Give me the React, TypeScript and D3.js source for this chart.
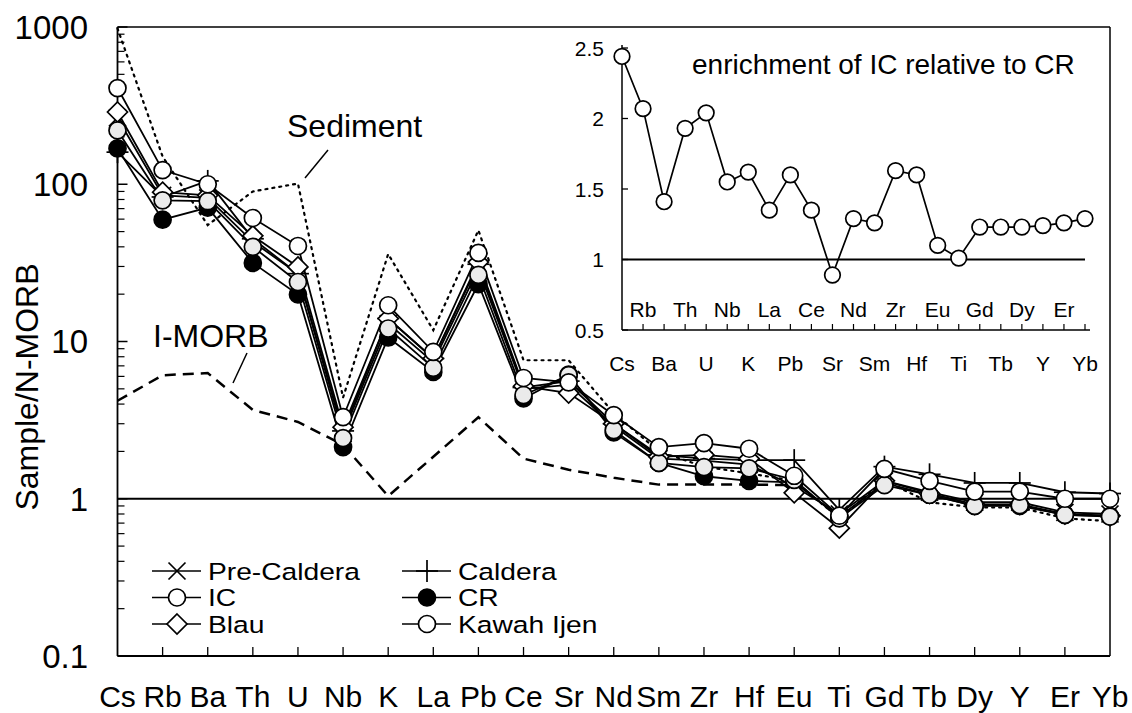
import React from "react";
import * as d3 from "d3";

const elements = ["Cs","Rb","Ba","Th","U","Nb","K","La","Pb","Ce","Sr","Nd","Sm","Zr","Hf","Eu","Ti","Gd","Tb","Dy","Y","Er","Yb"];

const preCaldera = [264, 85, 82, 43, 27, 2.6, 13, 7.4, 29, 5.0, 5.3, 2.9, 1.8, 1.75, 1.65, 1.2, 0.8, 1.3, 1.1, 0.95, 0.95, 0.82, 0.8];
const caldera = [160, 83, 105, 45, 27, 2.7, 14, 7.8, 31, 5.1, 5.6, 3.0, 1.9, 1.8, 1.76, 1.76, 0.85, 1.6, 1.43, 1.26, 1.26, 1.1, 1.08];
const ic = [409, 123, 100, 61, 40.5, 3.3, 17.0, 8.6, 36.6, 5.86, 5.5, 3.4, 2.13, 2.26, 2.08, 1.4, 0.78, 1.55, 1.3, 1.11, 1.11, 1.0, 1.0];
const cr = [169, 59.5, 71, 31.6, 19.9, 2.13, 10.6, 6.4, 23.2, 4.34, 6.15, 2.64, 1.69, 1.39, 1.3, 1.27, 0.77, 1.26, 1.06, 0.9, 0.9, 0.79, 0.775];
const blau = [288, 89, 85, 47, 29.8, 2.85, 14, 7.8, 32, 5.2, 4.7, 3.0, 1.85, 1.9, 1.8, 1.09, 0.65, 1.3, 1.08, 0.92, 0.92, 0.8, 0.78];
const kawahIjen = [220, 79, 78, 40, 23.9, 2.43, 12.1, 6.8, 26.5, 4.57, 6.1, 2.73, 1.69, 1.59, 1.56, 1.32, 0.75, 1.22, 1.06, 0.9, 0.91, 0.79, 0.77];

const sediment = [980, 150, 55, 90, 101, 4.4, 36, 11.8, 51, 7.6, 7.6, 3.5, 2.0, 1.6, 1.45, 1.3, 0.75, 1.3, 0.95, 0.88, 0.88, 0.75, 0.72];
const iMorb = [4.2, 6.1, 6.3, 3.67, 3.08, 2.2, 1.04, 1.85, 3.3, 1.8, 1.53, 1.36, 1.23, 1.23, 1.23, 1.22];

const enrichment = [2.44, 2.07, 1.41, 1.93, 2.04, 1.55, 1.62, 1.35, 1.60, 1.35, 0.89, 1.29, 1.26, 1.63, 1.60, 1.10, 1.01, 1.23, 1.23, 1.23, 1.24, 1.26, 1.29];

const mainTicks = [0.1, 1, 10, 100, 1000];
const mainTickLabels = ["0.1", "1", "10", "100", "1000"];
const insetTicks = [0.5, 1, 1.5, 2, 2.5];
const insetTickLabels = ["0.5", "1", "1.5", "2", "2.5"];

const FONT = "'Liberation Sans', Arial, Helvetica, sans-serif";

type Marker = "x" | "plus" | "circle" | "filled" | "diamond" | "grey";

function MarkerShape({ type, x, y, legend }: { type: Marker; x: number; y: number; legend?: boolean }) {
  const r = 8.5;
  if (type === "x") {
    const s = 8.5;
    return (
      <g stroke="#000" strokeWidth={1.7}>
        <line x1={x - s} y1={y - s} x2={x + s} y2={y + s} />
        <line x1={x - s} y1={y + s} x2={x + s} y2={y - s} />
      </g>
    );
  }
  if (type === "plus") {
    const s = 11;
    return (
      <g stroke="#000" strokeWidth={1.7}>
        <line x1={x - s} y1={y} x2={x + s} y2={y} />
        <line x1={x} y1={y - s} x2={x} y2={y + s} />
      </g>
    );
  }
  if (type === "diamond") {
    const s = 10;
    return <path d={`M${x},${y - s}L${x + s},${y}L${x},${y + s}L${x - s},${y}Z`} fill="#fff" stroke="#000" strokeWidth={1.7} />;
  }
  if (type === "filled") return <circle cx={x} cy={y} r={r} fill="#000" stroke="#000" strokeWidth={1.7} />;
  if (type === "grey") return <circle cx={x} cy={y} r={r} fill={legend ? "#fff" : "#ebebeb"} stroke="#000" strokeWidth={1.7} />;
  return <circle cx={x} cy={y} r={r} fill="#fff" stroke="#000" strokeWidth={1.7} />;
}

const series: { name: string; values: number[]; marker: Marker }[] = [
  { name: "Pre-Caldera", values: preCaldera, marker: "x" },
  { name: "Caldera", values: caldera, marker: "plus" },
  { name: "CR", values: cr, marker: "filled" },
  { name: "Blau", values: blau, marker: "diamond" },
  { name: "Kawah Ijen", values: kawahIjen, marker: "grey" },
  { name: "IC", values: ic, marker: "circle" },
];

const legendItems: { name: string; marker: Marker; col: number; row: number }[] = [
  { name: "Pre-Caldera", marker: "x", col: 0, row: 0 },
  { name: "IC", marker: "circle", col: 0, row: 1 },
  { name: "Blau", marker: "diamond", col: 0, row: 2 },
  { name: "Caldera", marker: "plus", col: 1, row: 0 },
  { name: "CR", marker: "filled", col: 1, row: 1 },
  { name: "Kawah Ijen", marker: "grey", col: 1, row: 2 },
];

export default function App() {
  const W = 1132, H = 713;
  const left = 117.5, right = 1110, top = 27, bottom = 656;
  const x = d3.scalePoint<string>().domain(elements).range([left, right]);
  const y = d3.scaleLog().domain([0.1, 1000]).range([bottom, top]);
  const line = d3.line<number>().x((_, i) => x(elements[i])!).y((v) => y(v));

  const minor: number[] = [];
  for (let e = -1; e < 3; e++) for (let k = 2; k <= 9; k++) minor.push(k * Math.pow(10, e));

  // inset
  const ix = d3.scalePoint<string>().domain(elements).range([622, 1085]);
  const iy = d3.scaleLinear().domain([0.5, 2.5]).range([330, 48]);
  const iline = d3.line<number>().x((_, i) => ix(elements[i])!).y((v) => iy(v));

  return (
    <svg width={W} height={H} style={{ position: "absolute", left: 0, top: 0, background: "#fff" }} fontFamily={FONT}>
      <rect x={0} y={0} width={W} height={H} fill="#fff" />
      {/* frame */}
      <line x1={left} y1={top} x2={right} y2={top} stroke="#000" strokeWidth={1.5} />
      <line x1={right} y1={top} x2={right} y2={bottom} stroke="#000" strokeWidth={1.5} />
      <line x1={left} y1={top} x2={left} y2={bottom} stroke="#000" strokeWidth={1.8} />
      <line x1={left} y1={bottom} x2={right} y2={bottom} stroke="#000" strokeWidth={1.8} />
      {/* y ticks */}
      {mainTicks.map((t, i) => (
        <g key={"yt" + t}>
          <line x1={left} x2={left + 10} y1={y(t)} y2={y(t)} stroke="#000" strokeWidth={1.5} />
          <text x={88} y={y(t)} dy="0.36em" textAnchor="end" fontSize={33}>{mainTickLabels[i]}</text>
        </g>
      ))}
      {minor.map((t) => (
        <line key={"ym" + t} x1={left} x2={left + 7} y1={y(t)} y2={y(t)} stroke="#000" strokeWidth={1.2} />
      ))}
      {/* x ticks & labels */}
      {elements.map((el, i) => (
        <g key={"xt" + el}>
          {i > 0 && i < elements.length - 1 && (
            <line x1={x(el)} x2={x(el)} y1={bottom} y2={bottom - 9} stroke="#000" strokeWidth={1.3} />
          )}
          <text x={x(el)} y={707} textAnchor="middle" fontSize={30}>{el}</text>
        </g>
      ))}
      <text transform={`translate(38,387) rotate(-90)`} textAnchor="middle" fontSize={32}>Sample/N-MORB</text>

      {/* reference line at 1 */}
      <line x1={left} x2={right} y1={y(1)} y2={y(1)} stroke="#000" strokeWidth={2} />

      {/* Sediment & I-MORB */}
      <path d={line(sediment)!} fill="none" stroke="#000" strokeWidth={2.2} strokeDasharray="2 5" strokeLinecap="round" />
      <path d={line(iMorb)!} fill="none" stroke="#000" strokeWidth={2.5} strokeDasharray="11 7" />
      <text x={287} y={137} fontSize={32}>Sediment</text>
      <line x1={328} y1={150} x2={305} y2={178} stroke="#000" strokeWidth={1.5} />
      <text x={153} y={347} fontSize={32}>I-MORB</text>
      <line x1={247} y1={353} x2={233} y2={383} stroke="#000" strokeWidth={1.5} />

      {/* series lines */}
      {series.map((s) => (
        <path key={"l" + s.name} d={line(s.values)!} fill="none" stroke="#000" strokeWidth={1.8} />
      ))}
      {/* markers */}
      {series.map((s) => (
        <g key={"m" + s.name}>
          {s.values.map((v, i) => (
            <MarkerShape key={i} type={s.marker} x={x(elements[i])!} y={y(v)} />
          ))}
        </g>
      ))}

      {/* legend */}
      {legendItems.map((it) => {
        const lx = it.col === 0 ? 152 : 402;
        const ly = 571 + it.row * 26.5;
        return (
          <g key={"lg" + it.name}>
            <line x1={lx} x2={lx + 49} y1={ly} y2={ly} stroke="#000" strokeWidth={1.7} />
            <MarkerShape type={it.marker} x={lx + 25} y={ly} legend />
            <text transform={`translate(${lx + 56},${ly + 8.5}) scale(1.2,1)`} fontSize={23.5}>{it.name}</text>
          </g>
        );
      })}

      {/* inset */}
      <line x1={622} x2={622} y1={45} y2={330} stroke="#000" strokeWidth={1.5} />
      <line x1={622} x2={1090} y1={330} y2={330} stroke="#000" strokeWidth={1.5} />
      {insetTicks.map((t, i) => (
        <g key={"it" + t}>
          <line x1={622} x2={628} y1={iy(t)} y2={iy(t)} stroke="#000" strokeWidth={1.3} />
          <text x={604} y={iy(t)} dy="0.36em" textAnchor="end" fontSize={21}>{insetTickLabels[i]}</text>
        </g>
      ))}
      {elements.map((el, i) => (
        <g key={"ix" + el}>
          {i > 0 && <line x1={ix(el)} x2={ix(el)} y1={330} y2={324} stroke="#000" strokeWidth={1.2} />}
          <text x={ix(el)} y={i % 2 === 1 ? 317 : 371} textAnchor="middle" fontSize={21}>{el}</text>
        </g>
      ))}
      <line x1={622} x2={1085} y1={iy(1)} y2={iy(1)} stroke="#000" strokeWidth={1.8} />
      <text x={692} y={74} fontSize={28}>enrichment of IC relative to CR</text>
      <path d={iline(enrichment)!} fill="none" stroke="#000" strokeWidth={1.7} />
      {enrichment.map((v, i) => (
        <circle key={"ic" + i} cx={ix(elements[i])} cy={iy(v)} r={7.8} fill="#fff" stroke="#000" strokeWidth={1.7} />
      ))}
    </svg>
  );
}
